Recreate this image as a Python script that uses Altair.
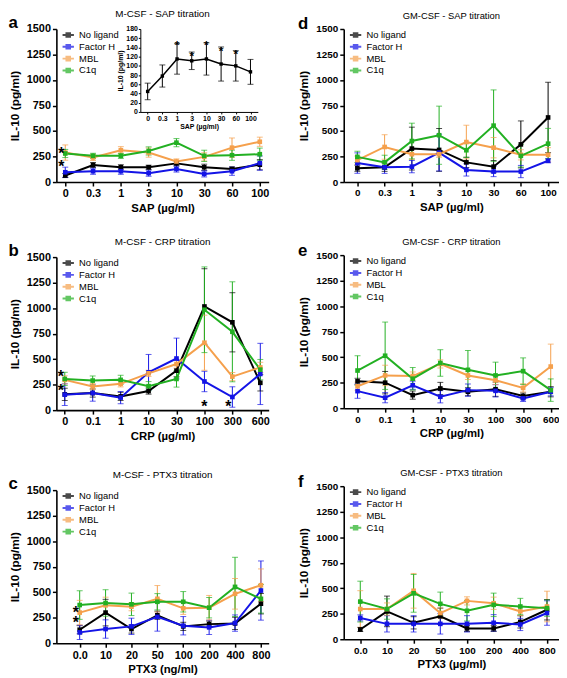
import altair as alt
import pandas as pd

SERIES = ["No ligand", "Factor H", "MBL", "C1q"]
COLORS = ["#000000", "#1414E6", "#F5A04C", "#22B022"]

SAP_X = ["0", "0.3", "1", "3", "10", "30", "60", "100"]
CRP_X = ["0", "0.1", "1", "10", "30", "100", "300", "600"]
PTX_X = ["0.0", "10", "20", "50", "100", "200", "400", "800"]

# panel a : M-CSF - SAP titration
A_MEAN = {"No ligand": [64, 167, 145, 145, 183, 145, 128, 170],
          "Factor H": [96, 106, 106, 87, 128, 80, 106, 186],
          "MBL": [289, 241, 312, 289, 202, 247, 337, 395],
          "C1q": [280, 257, 257, 305, 386, 257, 263, 273]}
A_ERR = {"No ligand": [20, 25, 25, 20, 25, 30, 20, 50],
         "Factor H": [50, 30, 30, 30, 30, 30, 40, 70],
         "MBL": [75, 30, 35, 45, 25, 40, 95, 45],
         "C1q": [40, 25, 25, 40, 40, 55, 50, 60]}
A_STARS_LEFT = [(0, 347), (0, 225)]
A_STARS_CENTER = []

# inset of panel a (No ligand only, 0-180 pg/ml)
INSET_MEAN = [44.5, 78, 115, 111, 115, 104, 100, 87]
INSET_ERR = [18, 24, 33, 19, 35, 37, 33, 27]
INSET_STARS = [(2, 157), (3, 134), (4, 157), (5, 146), (6, 139)]

# panel b : M-CSF - CRP titration
B_MEAN = {"No ligand": [155, 168, 135, 187, 387, 1016, 861, 268],
          "Factor H": [152, 168, 123, 371, 506, 281, 129, 355],
          "MBL": [297, 232, 258, 361, 452, 661, 329, 419],
          "C1q": [306, 290, 297, 235, 306, 984, 768, 397]}
B_ERR = {"No ligand": [60, 40, 40, 30, 60, 370, 290, 80],
         "Factor H": [106, 80, 60, 175, 200, 100, 100, 300],
         "MBL": [40, 30, 30, 30, 40, 270, 40, 50],
         "C1q": [65, 45, 45, 45, 80, 420, 490, 100]}
B_STARS_LEFT = [(0, 397), (0, 268), (6, 106)]
B_STARS_CENTER = [(5, 106)]

# panel c : M-CSF - PTX3 titration
C_MEAN = {"No ligand": [132, 300, 139, 274, 165, 187, 194, 387],
          "Factor H": [106, 139, 165, 258, 171, 155, 197, 516],
          "MBL": [300, 371, 358, 435, 342, 348, 484, 568],
          "C1q": [374, 394, 381, 406, 406, 348, 552, 435]}
C_ERR = {"No ligand": [40, 130, 40, 40, 40, 30, 60, 100],
         "Factor H": [70, 90, 80, 140, 90, 70, 80, 290],
         "MBL": [120, 80, 40, 130, 60, 120, 150, 160],
         "C1q": [140, 130, 110, 80, 100, 100, 290, 140]}
C_STARS_LEFT = [(0, 377), (0, 277)]
C_STARS_CENTER = []

# panel d : GM-CSF - SAP titration
D_MEAN = {"No ligand": [135, 145, 328, 315, 193, 151, 369, 633],
          "Factor H": [186, 145, 151, 289, 119, 103, 103, 209],
          "MBL": [215, 344, 273, 273, 392, 337, 267, 267],
          "C1q": [247, 193, 402, 459, 312, 553, 257, 376]}
D_ERR = {"No ligand": [30, 40, 210, 210, 50, 60, 230, 345],
         "Factor H": [100, 60, 60, 180, 60, 50, 60, 20],
         "MBL": [40, 120, 50, 30, 165, 100, 50, 70],
         "C1q": [55, 70, 175, 285, 70, 350, 110, 150]}

# panel e : GM-CSF - CRP titration
E_MEAN = {"No ligand": [263, 250, 128, 193, 161, 186, 119, 161],
          "Factor H": [167, 103, 225, 112, 177, 170, 96, 161],
          "MBL": [215, 321, 315, 434, 321, 273, 199, 408],
          "C1q": [369, 514, 289, 443, 376, 321, 363, 177]}
E_ERR = {"No ligand": [30, 110, 40, 60, 40, 70, 30, 50],
         "Factor H": [70, 50, 40, 60, 60, 60, 30, 40],
         "MBL": [40, 100, 40, 40, 40, 40, 40, 220],
         "C1q": [145, 330, 110, 130, 190, 130, 130, 110]}

# panel f : GM-CSF - PTX3 titration
F_MEAN = {"No ligand": [96, 273, 161, 225, 106, 106, 170, 289],
          "Factor H": [209, 151, 151, 151, 151, 161, 145, 257],
          "MBL": [296, 296, 475, 257, 376, 353, 273, 321],
          "C1q": [369, 296, 450, 347, 279, 337, 321, 305]}
F_ERR = {"No ligand": [20, 150, 60, 80, 30, 30, 60, 100],
         "Factor H": [30, 80, 80, 100, 80, 80, 60, 120],
         "MBL": [180, 60, 170, 50, 40, 60, 40, 150],
         "C1q": [200, 100, 185, 115, 100, 115, 80, 80]}

FONT = "Liberation Sans"
LEG_PATH = "M-1.15,0L1.15,0M-0.36,-0.36L0.36,-0.36L0.36,0.36L-0.36,0.36Z"
PLOT_H = 155


def label_expr(cats):
    return "[" + ",".join("'%s'" % c for c in cats) + "][datum.value]"


def indep(c):
    return c.resolve_scale(color="independent").resolve_legend(color="independent")


def panel(letter, name, cats, xtitle, means, errs, pad, width, fs, tfs,
          stars_left, stars_center, inset=False):
    rows = []
    for s in SERIES:
        for i, (m, e) in enumerate(zip(means[s], errs[s])):
            rows.append(dict(series=s, idx=i, value=m, lo=max(m - e, 0), hi=m + e))
    df = pd.DataFrame(rows)

    xax = alt.Axis(values=list(range(8)), labelExpr=label_expr(cats), title=xtitle,
                   labelFontSize=fs, labelFontWeight="bold", titleFontSize=11.5,
                   titleFontWeight="bold", tickSize=4, labelPadding=2,
                   titlePadding=4, grid=False)
    xsc = alt.Scale(domain=[-pad[0], 7 + pad[1]], nice=False, zero=False)
    yax = alt.Axis(values=list(range(0, 1501, 250)), format="d", title="IL-10 (pg/ml)",
                   labelFontSize=fs, labelFontWeight="bold", titleFontSize=12,
                   titleFontWeight="bold", tickSize=4, labelPadding=2,
                   titlePadding=5, grid=False)
    ysc = alt.Scale(domain=[0, 1500], nice=False)
    col = alt.Color("series:N", scale=alt.Scale(domain=SERIES, range=COLORS),
                    legend=alt.Legend(title=None, orient="none", legendX=6, legendY=0,
                                      padding=0, labelFontSize=9.5, labelFont=FONT,
                                      symbolType=LEG_PATH, symbolSize=100,
                                      symbolStrokeWidth=2, labelOffset=5,
                                      rowPadding=0))
    X = alt.X("idx:Q", scale=xsc, axis=xax)

    base = alt.Chart(df)
    rules = base.mark_rule(strokeWidth=1).encode(
        x=X, y=alt.Y("lo:Q", scale=ysc, axis=yax), y2="hi:Q", color=col)
    caps = base.transform_fold(["lo", "hi"], as_=["end", "cap"]).mark_tick(
        orient="horizontal", size=6, thickness=1).encode(
        x=X, y=alt.Y("cap:Q", scale=ysc, axis=yax), color=col)
    line = base.mark_line(strokeWidth=2).encode(
        x=X, y=alt.Y("value:Q", scale=ysc, axis=yax), color=col)
    pts = base.mark_point(shape="square", filled=True, size=22, opacity=1).encode(
        x=X, y=alt.Y("value:Q", scale=ysc, axis=yax), color=col)
    layers = [rules, caps, line, pts]
    if stars_left:
        sl = pd.DataFrame(stars_left, columns=["idx", "value"])
        layers.append(alt.Chart(sl).mark_text(text="*", fontSize=16, fontWeight="bold",
                                              dx=-4, dy=8, color="black").encode(
            x=X, y=alt.Y("value:Q", scale=ysc, axis=yax)))
    if stars_center:
        sc = pd.DataFrame(stars_center, columns=["idx", "value"])
        layers.append(alt.Chart(sc).mark_text(text="*", fontSize=16, fontWeight="bold",
                                              dy=8, color="black").encode(
            x=X, y=alt.Y("value:Q", scale=ysc, axis=yax)))
    main = alt.layer(*layers)

    if inset:
        idf = pd.DataFrame(dict(idx=list(range(8)), value=INSET_MEAN,
                                lo=[m - e for m, e in zip(INSET_MEAN, INSET_ERR)],
                                hi=[m + e for m, e in zip(INSET_MEAN, INSET_ERR)]))
        ixax = alt.Axis(orient="bottom", offset=-(PLOT_H - 84), values=list(range(8)),
                        labelExpr=label_expr(SAP_X), title="SAP (µg/ml)",
                        labelFontSize=7, labelFontWeight="bold", titleFontSize=7,
                        titleFontWeight="bold", tickSize=2, labelPadding=1,
                        titlePadding=1, domainWidth=1, tickWidth=1, grid=False)
        iyax = alt.Axis(orient="left", offset=-85, values=list(range(0, 181, 20)),
                        title="IL-10 (pg/ml)", labelFontSize=7, labelFontWeight="bold",
                        titleFontSize=7, titleFontWeight="bold", tickSize=2,
                        labelPadding=1, titlePadding=2, domainWidth=1, tickWidth=1,
                        grid=False)
        ixsc = alt.Scale(domain=[-0.5, 7.5], range=[85, 204], nice=False, zero=False)
        iysc = alt.Scale(domain=[0, 180], range=[84, 0], nice=False)
        IX = alt.X("idx:Q", scale=ixsc, axis=ixax)
        ib = alt.Chart(idf)
        irule = ib.mark_rule(strokeWidth=1, color="black").encode(
            x=IX, y=alt.Y("lo:Q", scale=iysc, axis=iyax), y2="hi:Q")
        icaps = ib.transform_fold(["lo", "hi"], as_=["end", "cap"]).mark_tick(
            orient="horizontal", size=6, thickness=1, color="black").encode(
            x=IX, y=alt.Y("cap:Q", scale=iysc, axis=iyax))
        iline = ib.mark_line(strokeWidth=1.5, color="black").encode(
            x=IX, y=alt.Y("value:Q", scale=iysc, axis=iyax))
        ipts = ib.mark_point(shape="square", filled=True, size=12, opacity=1,
                             color="black").encode(
            x=IX, y=alt.Y("value:Q", scale=iysc, axis=iyax))
        istars = alt.Chart(pd.DataFrame(INSET_STARS, columns=["idx", "value"])).mark_text(
            text="*", fontSize=12, fontWeight="bold", dy=6, color="black").encode(
            x=IX, y=alt.Y("value:Q", scale=iysc, axis=iyax))
        ins = alt.layer(irule, icaps, iline, ipts, istars)
        body = alt.layer(main, ins).resolve_scale(x="independent", y="independent")
    else:
        body = main

    body = body.properties(width=width, height=PLOT_H,
                           title=alt.TitleParams(name, fontSize=tfs, fontWeight="normal",
                                                 anchor="middle", frame="group",
                                                 offset=4, font=FONT))
    return indep(alt.vconcat(body).properties(
        title=alt.TitleParams(letter, anchor="start", frame="bounds", fontSize=17,
                              fontWeight="bold", font=FONT, offset=0, dy=23)))


pa = panel("a", "M-CSF - SAP titration", SAP_X, "SAP (µg/ml)", A_MEAN, A_ERR,
           (0.32, 0.32), 215, 11, 10, A_STARS_LEFT, A_STARS_CENTER, inset=True)
pb = panel("b", "M-CSF - CRP titration", CRP_X, "CRP (µg/ml)", B_MEAN, B_ERR,
           (0.3, 0.3), 215, 11, 10, B_STARS_LEFT, B_STARS_CENTER)
pc = panel("c", "M-CSF - PTX3 titration", PTX_X, "PTX3 (ng/ml)", C_MEAN, C_ERR,
           (0.9, 0.3), 215, 11, 10, C_STARS_LEFT, C_STARS_CENTER)
pd_ = panel("d", "GM-CSF - SAP titration", SAP_X, "SAP (µg/ml)", D_MEAN, D_ERR,
            (0.5, 0.4), 218, 10, 9.5, [], [])
pe = panel("e", "GM-CSF - CRP titration", CRP_X, "CRP (µg/ml)", E_MEAN, E_ERR,
           (0.5, 0.3), 218, 10, 9.5, [], [])
pf = panel("f", "GM-CSF - PTX3 titration", PTX_X, "PTX3 (µg/ml)", F_MEAN, F_ERR,
           (0.62, 0.45), 218, 10, 9.5, [], [])

left = indep(alt.vconcat(indep(alt.vconcat(pa, pb, spacing=23)), pc, spacing=28))
right = indep(alt.vconcat(indep(alt.vconcat(pd_, pe, spacing=23)), pf, spacing=28))

chart = indep(alt.hconcat(left, right, spacing=27)).properties(
    padding={"left": 0, "top": -3, "right": 0, "bottom": 0}
).configure(font=FONT).configure_view(stroke=None).configure_axis(
    domainColor="black", domainWidth=1.6, tickColor="black", tickWidth=1.5,
    labelColor="black", titleColor="black", labelFont=FONT, titleFont=FONT
).configure_legend(labelColor="black").configure_title(color="black")

chart.save("out.html", embed_options={"renderer": "svg", "actions": False})
